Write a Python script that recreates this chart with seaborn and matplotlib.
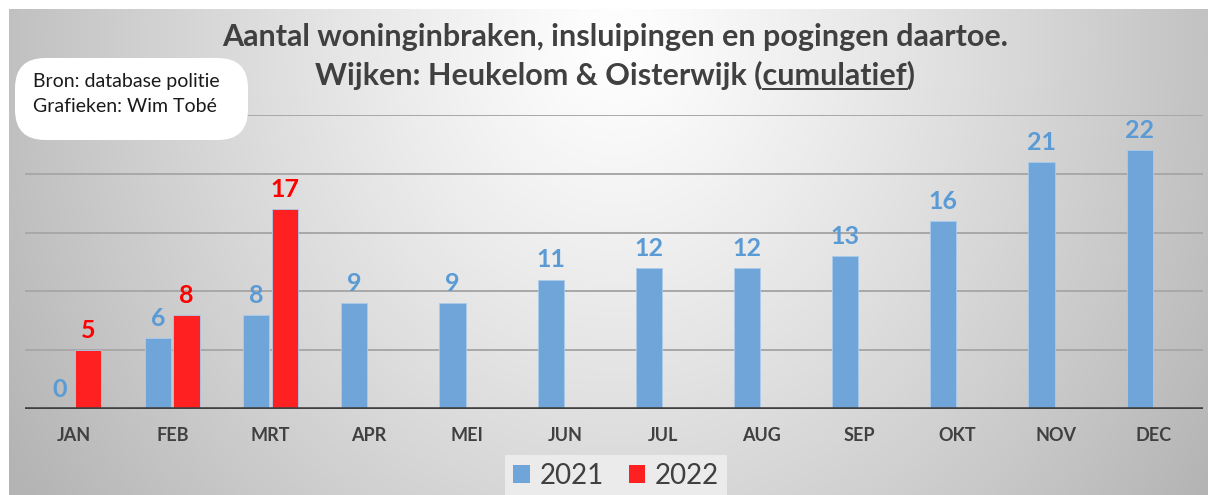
import numpy as np
import pandas as pd
import matplotlib
matplotlib.use("Agg")
import matplotlib.pyplot as plt
from matplotlib.patches import FancyBboxPatch, Patch
import seaborn as sns

months = ["JAN", "FEB", "MRT", "APR", "MEI", "JUN", "JUL", "AUG", "SEP", "OKT", "NOV", "DEC"]
v2021 = [0, 6, 8, 9, 9, 11, 12, 12, 13, 16, 21, 22]
v2022 = [5, 8, 17]
years = ["2021", "2022"]
title1 = "Aantal woninginbraken, insluipingen en pogingen daartoe."
title2_pre = "Wijken: Heukelom & Oisterwijk ("
title2_ul = "cumulatief"
title2_post = ")"
note_lines = ["Bron: database politie", "Grafieken: Wim Tobé"]

bar_colors = {"2021": "#6FA5D8", "2022": "#FF2121"}
label_colors = {"2021": "#5B9BD5", "2022": "#FF0000"}

rows = [(m, "2021", v) for m, v in zip(months, v2021)] + \
       [(m, "2022", v) for m, v in zip(months, v2022)]
df = pd.DataFrame(rows, columns=["month", "year", "value"])

plt.rcParams["font.family"] = ["Lato", "DejaVu Sans"]

W, H = 1208, 495
fig = plt.figure(figsize=(W / 100, H / 100), dpi=100, facecolor="white")

# background gradient
bg = fig.add_axes([0, 0, 1, 1], zorder=-10)
bg.set_xlim(0, W)
bg.set_ylim(H, 0)
bg.axis("off")
xx, yy = np.meshgrid(np.arange(9, W), np.arange(9, H))
d = np.sqrt(((xx - 615) / 620.0) ** 2 + ((yy - 40) / 700.0) ** 2)
val = np.clip(255 - 64 * d ** 1.15, 180, 255) / 255.0
img = np.dstack([val, val, val])
bg.imshow(img, extent=(9, W, H, 9), aspect="auto", interpolation="bilinear")

# main axes
x0, x1 = 25, 1203
ybase, ytop = 409, 115
ax = fig.add_axes([x0 / W, 1 - ybase / H, (x1 - x0) / W, (ybase - ytop) / H])
ax.patch.set_visible(False)

sns.barplot(data=df, x="month", y="value", hue="year", order=months,
            hue_order=years, palette=bar_colors, width=0.58, gap=0.08,
            saturation=1, edgecolor="#A9CBEB", linewidth=0.6, ax=ax, zorder=3)

ax.set_ylim(0, 25)
ax.set_xlim(-0.5, len(months) - 0.5)
ax.set_yticks([5, 10, 15, 20, 25])
ax.yaxis.grid(True, color="#A8A8A8", linewidth=1.4, zorder=1)
ax.set_axisbelow(True)
ax.axhline(0, color="#404040", linewidth=2.6, zorder=4)
for s in ax.spines.values():
    s.set_visible(False)
ax.set_xlabel("")
ax.set_ylabel("")
ax.tick_params(axis="y", left=False, labelleft=False)
ax.tick_params(axis="x", length=0, pad=13)
for t in ax.get_xticklabels():
    t.set_fontsize(13)
    t.set_fontweight("bold")
    t.set_color("#404040")

for cont, yr in zip(ax.containers, years):
    ax.bar_label(cont, fmt="%d", padding=6, fontsize=18, fontweight="bold",
                 color=label_colors[yr])

# legend
leg0 = ax.get_legend()
if leg0 is not None:
    leg0.remove()
handles = [Patch(facecolor=bar_colors[y], edgecolor="none") for y in years]
leg = fig.legend(handles, years, loc="center", bbox_to_anchor=(616 / W, 1 - 476 / H),
                 ncol=2, frameon=True, fancybox=False, framealpha=1,
                 facecolor="#EBEBEB", edgecolor="none", fontsize=20,
                 handlelength=0.6, handleheight=0.6, handletextpad=0.35,
                 columnspacing=0.9, borderpad=0.3)
for t in leg.get_texts():
    t.set_color("#404040")

# title
tcol = "#404040"
tfs = 22
fig.text(615 / W, 1 - 37 / H, title1, ha="center", va="center", fontsize=tfs,
         fontweight="bold", color=tcol)
full2 = title2_pre + title2_ul + title2_post
t2 = fig.text(615 / W, 1 - 75 / H, full2, ha="center", va="center", fontsize=tfs,
              fontweight="bold", color=tcol)
fig.canvas.draw()
r = fig.canvas.get_renderer()
bb = t2.get_window_extent(r)
tmp = fig.text(0, 0, title2_pre, fontsize=tfs, fontweight="bold")
wpre = tmp.get_window_extent(r).width
tmp.set_text(title2_ul)
wul = tmp.get_window_extent(r).width
tmp.remove()
uy = (H - 89) / H
fig.add_artist(plt.Line2D([(bb.x0 + wpre) / W, (bb.x0 + wpre + wul) / W], [uy, uy],
                          transform=fig.transFigure, color=tcol, linewidth=1.4))

# note box
box = FancyBboxPatch((15 / W, 1 - 140 / H), (248 - 15) / W, (140 - 58) / H,
                     boxstyle="round,pad=0,rounding_size=0.025",
                     transform=fig.transFigure, facecolor="white", edgecolor="none",
                     mutation_aspect=W / H)
fig.add_artist(box)
fig.text(33 / W, 1 - 81 / H, note_lines[0], ha="left", va="center", fontsize=14,
         color="#1a1a1a")
fig.text(33 / W, 1 - 106 / H, note_lines[1], ha="left", va="center", fontsize=14,
         color="#1a1a1a")

fig.savefig("out.png", dpi=100, facecolor="white")
